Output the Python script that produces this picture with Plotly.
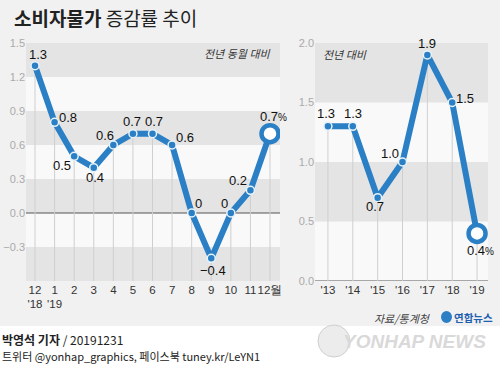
import plotly.graph_objects as go

# ---------- data ----------
months = ["12<br>'18", "1<br>'19", "2", "3", "4", "5", "6", "7", "8", "9", "10", "11", "12월"]
monthly_values = [1.3, 0.8, 0.5, 0.4, 0.6, 0.7, 0.7, 0.6, 0.0, -0.4, 0.0, 0.2, 0.7]
years = ["'13", "'14", "'15", "'16", "'17", "'18", "'19"]
yearly_values = [1.3, 1.3, 0.7, 1.0, 1.9, 1.5, 0.4]
left_ticks = [1.5, 1.2, 0.9, 0.6, 0.3, 0.0, -0.3]
right_ticks = [2.0, 1.5, 1.0, 0.5, 0.0]

# ---------- style ----------
BLUE = "#2b80c5"
FONT = "Liberation Sans, Roboto, sans-serif"
KFONT = "Noto Sans CJK KR, sans-serif"
left_shift = [(3, 11), (13, 5), (-12, -9), (1, -10), (-8, 10), (-1, 12), (1, 12),
              (13, 8), (7, 10), (2, -12), (-6, 10), (-12, 10), (3, 17)]
right_shift = [(-2, 13), (0, 13), (-3, -9), (-12, 9), (0, 11), (13, 4), (3, -17)]

def fmt(v, integer_zero=False, pct=False):
    if integer_zero and v == 0:
        s = "0"
    else:
        s = f"{abs(v):.1f}"
        if v < 0:
            s = "−" + s
    if pct:
        s += "<span style='font-size:10px'>%</span>"
    return s

fig = go.Figure()

lx = list(range(len(monthly_values)))
rx = list(range(len(yearly_values)))
LMIN, LMAX = -0.6, 1.5
RMIN, RMAX = 0.0, 2.0

# drop lines
dx, dy = [], []
for i, v in zip(lx, monthly_values):
    dx += [i, i, None]; dy += [v, LMIN, None]
fig.add_trace(go.Scatter(x=dx, y=dy, mode="lines", line=dict(color="#cfcfcf", width=1),
                         hoverinfo="skip", showlegend=False, xaxis="x", yaxis="y"))
dx, dy = [], []
for i, v in zip(rx, yearly_values):
    dx += [i, i, None]; dy += [v, RMIN, None]
fig.add_trace(go.Scatter(x=dx, y=dy, mode="lines", line=dict(color="#cfcfcf", width=1),
                         hoverinfo="skip", showlegend=False, xaxis="x2", yaxis="y2"))

# main lines
fig.add_trace(go.Scatter(x=lx, y=monthly_values, mode="lines+markers",
                         line=dict(color=BLUE, width=6),
                         marker=dict(size=8, color=BLUE, line=dict(color="#e6f3fb", width=1.5)),
                         showlegend=False, xaxis="x", yaxis="y"))
fig.add_trace(go.Scatter(x=rx, y=yearly_values, mode="lines+markers",
                         line=dict(color=BLUE, width=6),
                         marker=dict(size=8, color=BLUE, line=dict(color="#e6f3fb", width=1.5)),
                         showlegend=False, xaxis="x2", yaxis="y2"))
# end markers
fig.add_trace(go.Scatter(x=[lx[-1]], y=[monthly_values[-1]], mode="markers",
                         marker=dict(size=17, color="white", line=dict(color=BLUE, width=4.5)),
                         showlegend=False, xaxis="x", yaxis="y"))
fig.add_trace(go.Scatter(x=[rx[-1]], y=[yearly_values[-1]], mode="markers",
                         marker=dict(size=17, color="white", line=dict(color=BLUE, width=4.5)),
                         showlegend=False, xaxis="x2", yaxis="y2"))

ann = []
for i, v in enumerate(monthly_values):
    sx, sy = left_shift[i]
    ann.append(dict(x=i, y=v, xref="x", yref="y", text=fmt(v, True, i == len(monthly_values) - 1),
                    showarrow=False, xshift=sx, yshift=sy,
                    font=dict(family=FONT, size=13, color="#111")))
for i, v in enumerate(yearly_values):
    sx, sy = right_shift[i]
    ann.append(dict(x=i, y=v, xref="x2", yref="y2", text=fmt(v, False, i == len(yearly_values) - 1),
                    showarrow=False, xshift=sx, yshift=sy,
                    font=dict(family=FONT, size=13, color="#111")))

# title & texts
ann.append(dict(x=12 / 500, y=1 - 17 / 365, xref="paper", yref="paper", xanchor="left", yanchor="middle",
                text="<b>소비자물가</b> 증감률 추이", showarrow=False,
                font=dict(family=KFONT, size=19, color="#222")))
ann.append(dict(x=273 / 500, y=1 - 53 / 365, xref="paper", yref="paper", xanchor="right", yanchor="middle",
                text="<i>전년 동월 대비</i>", showarrow=False,
                font=dict(family=KFONT, size=11, color="#333")))
ann.append(dict(x=321 / 500, y=1 - 54 / 365, xref="paper", yref="paper", xanchor="left", yanchor="middle",
                text="<i>전년 대비</i>", showarrow=False,
                font=dict(family=KFONT, size=11, color="#333")))
ann.append(dict(x=433 / 500, y=1 - 318 / 365, xref="paper", yref="paper", xanchor="right", yanchor="middle",
                text="<i>자료/통계청</i>", showarrow=False,
                font=dict(family=KFONT, size=11, color="#444")))
ann.append(dict(x=495 / 500, y=1 - 317 / 365, xref="paper", yref="paper", xanchor="right", yanchor="middle",
                text="<b>연합뉴스</b>", showarrow=False,
                font=dict(family=KFONT, size=10.5, color="#1f5fb0")))
ann.append(dict(x=488 / 500, y=1 - 341 / 365, xref="paper", yref="paper", xanchor="right", yanchor="middle",
                text="<b><i>YONHAP NEWS</i></b>", showarrow=False,
                font=dict(family="Liberation Sans, sans-serif", size=19, color="#d9d9d9")))
ann.append(dict(x=0, y=1 - 339 / 365, xref="paper", yref="paper", xanchor="left", yanchor="middle",
                text="<b>박영석 기자</b> / 20191231", showarrow=False,
                font=dict(family=KFONT, size=12, color="#222")))
ann.append(dict(x=0, y=1 - 356 / 365, xref="paper", yref="paper", xanchor="left", yanchor="middle",
                text="트위터 @yonhap_graphics, 페이스북 tuney.kr/LeYN1", showarrow=False,
                font=dict(family=KFONT, size=11, color="#222")))

shapes = []
# footer white
shapes.append(dict(type="rect", xref="paper", yref="paper", x0=0, x1=1, y0=0, y1=1 - 326 / 365,
                   fillcolor="white", line=dict(width=0), layer="below"))
# bands
for a, b in [(1.2, 1.5), (0.6, 0.9), (0.0, 0.3), (-0.6, -0.3)]:
    shapes.append(dict(type="rect", xref="x domain", yref="y", x0=0, x1=1, y0=a, y1=b,
                       fillcolor="#e4e4e4", line=dict(width=0), layer="below"))
for a, b in [(1.5, 2.0), (0.5, 1.0)]:
    shapes.append(dict(type="rect", xref="x2 domain", yref="y2", x0=0, x1=1, y0=a, y1=b,
                       fillcolor="#e4e4e4", line=dict(width=0), layer="below"))
shapes.append(dict(type="line", xref="x domain", yref="y", x0=0, x1=1, y0=0, y1=0,
                   line=dict(color="#555", width=1), layer="below"))
shapes.append(dict(type="line", xref="x2 domain", yref="y2", x0=0, x1=1, y0=0, y1=0,
                   line=dict(color="#555", width=1), layer="below"))
# logo circles
shapes.append(dict(type="circle", xref="paper", yref="paper",
                   x0=441 / 500, x1=452 / 500, y0=1 - 323 / 365, y1=1 - 311 / 365,
                   fillcolor="#2b80c5", line=dict(width=0)))
shapes.append(dict(type="circle", xref="paper", yref="paper",
                   x0=318 / 500, x1=350 / 500, y0=1 - 357 / 365, y1=1 - 325 / 365,
                   fillcolor="#ececec", line=dict(color="#cfcfcf", width=1), layer="below"))

ydom = [1 - 281 / 365, 1 - 43 / 365]
tickfont_y = dict(family=FONT, size=11, color="#aaaaaa")
tickfont_x = dict(family=FONT, size=11.5, color="#333")

fig.update_layout(
    width=500, height=365,
    margin=dict(l=0, r=0, t=0, b=0, autoexpand=False),
    paper_bgcolor="#f1f1f1",
    plot_bgcolor="#f9f9f9",
    shapes=shapes,
    annotations=ann,
    xaxis=dict(domain=[26 / 500, 280 / 500], range=[-0.46, 12.51], tickvals=lx, ticktext=months,
               showgrid=False, zeroline=False, showline=False, ticks="", tickfont=tickfont_x,
               tickangle=0, automargin=False, fixedrange=True),
    yaxis=dict(domain=ydom, range=[LMIN, LMAX], tickvals=left_ticks,
               ticktext=[f"{t:.1f}".replace("-", "−") for t in left_ticks],
               showgrid=False, zeroline=False, showline=False, ticks="", tickfont=tickfont_y,
               anchor="x", automargin=False),
    xaxis2=dict(domain=[315 / 500, 488 / 500], range=[-0.52, 6.44], tickvals=rx, ticktext=years,
                showgrid=False, zeroline=False, showline=False, ticks="", tickfont=tickfont_x,
                tickangle=0, anchor="y2", automargin=False),
    yaxis2=dict(domain=ydom, range=[RMIN, RMAX], tickvals=right_ticks,
                ticktext=[f"{t:.1f}" for t in right_ticks],
                showgrid=False, zeroline=False, showline=False, ticks="", tickfont=tickfont_y,
                anchor="x2", automargin=False),
    showlegend=False,
)

fig.write_html("out.html", config={"displayModeBar": False},
               post_script="document.body.style.margin='0';document.body.style.padding='0';")
